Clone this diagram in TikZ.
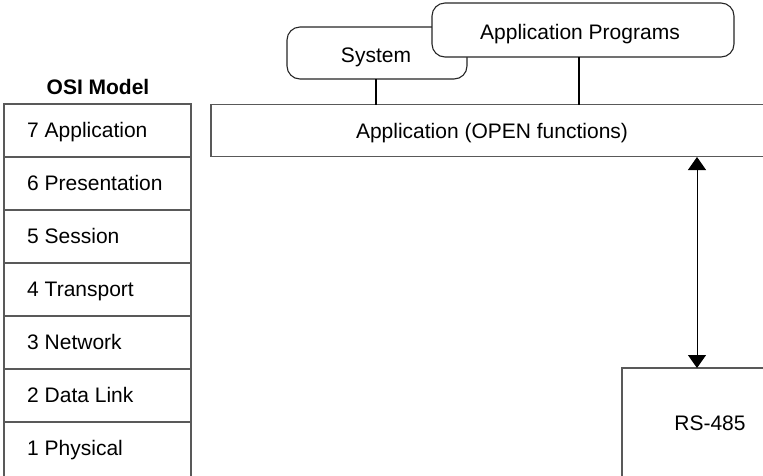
\documentclass[tikz,border=0pt]{standalone}
\usepackage{fontspec}
\setmainfont{Liberation Sans}
\usetikzlibrary{arrows.meta}
\begin{document}
\begin{tikzpicture}[x=1pt,y=-1pt,
  box/.style={draw=black!65,line width=1.1pt,fill=white},
  rbox/.style={draw=black!85,line width=1.1pt,fill=white,rounded corners=13pt},
  lbl/.style={font=\fontsize{21}{25}\selectfont,inner sep=0pt,anchor=base},
  link/.style={draw=black,line width=1.2pt},
  dblarrow/.style={draw=black,line width=1pt,{Triangle[length=13pt,width=18pt]}-{Triangle[length=13pt,width=18pt]}}]
\useasboundingbox (0,0) rectangle (763,475);
% OSI model column
\node[lbl,font=\fontsize{21}{25}\selectfont\bfseries] (osititle) at (98,94) {OSI Model};
\foreach \i/\t [count=\k from 0] in {7/Application,6/Presentation,5/Session,4/Transport,3/Network,2/Data Link,1/Physical}{
  \draw[box] (4,{104+53*\k}) rectangle (191,{157+53*\k+(\k==6 ? 10 : 0)});
  \node[lbl,anchor=base west] (osi\i) at (27,{137+53*\k}) {\i\ \t};
}
% Application box
\draw[box] (211,104.5) rectangle (775,156.5);
\coordinate (appbox) at (492,104.5);
\node[lbl] (app) at (492,138) {Application (OPEN functions)};
% System and Application Programs
\draw[rbox] (287,27) rectangle (467,79);
\node[lbl] (sys) at (376,62) {System};
\draw[rbox] (432,3) rectangle (734,57);
\node[lbl] (apps) at (580,39) {Application Programs};
\coordinate (sysb) at (376,79);
\coordinate (sysa) at (376,104.5);
\coordinate (appsb) at (579,57);
\coordinate (appsa) at (579,104.5);
\draw[link] (sysb) -- (sysa);
\draw[link] (appsb) -- (appsa);
% RS-485
\draw[box] (622,368) rectangle (775,485);
\node[lbl] (rs) at (710,430) {RS-485};
\coordinate (atop) at (697,157);
\coordinate (abot) at (697,368);
\draw[dblarrow] (atop) -- (abot);
\end{tikzpicture}
\end{document}
